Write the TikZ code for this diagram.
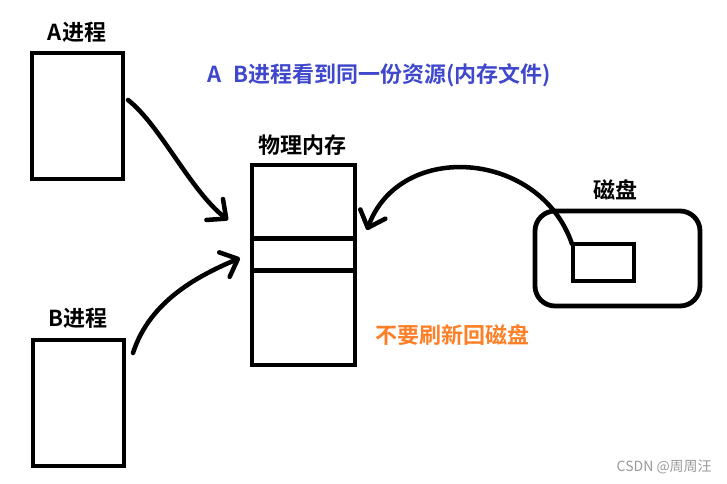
\documentclass[tikz,border=0pt]{standalone}
\usepackage{fontspec}
\setmainfont{Noto Sans CJK SC}[BoldFont=Noto Sans CJK SC Bold]
\usetikzlibrary{arrows.meta}
\definecolor{paintblue}{RGB}{63,72,204}
\definecolor{paintorange}{RGB}{255,127,39}
\tikzset{
  box/.style={draw=black, line width=3.6pt, inner sep=0pt, outer sep=0pt},
  lbl/.style={font=\fontsize{16.5}{18}\selectfont\bfseries, inner sep=0pt},
  arr/.style={draw=black, line width=3.4pt, line cap=round, line join=round,
    -{Straight Barb[length=11pt,width=20pt,line cap=round,line join=round]}},
}
\begin{document}
\begin{tikzpicture}[x=0.75pt,y=-0.75pt]
\useasboundingbox (0,0) rectangle (727,484);
% boxes
\node[box, minimum width=68.25pt, minimum height=94.5pt] (A) at (77.5,116) {};
\node[box, minimum width=68.25pt, minimum height=94.5pt] (B) at (78.5,403) {};
\node[box, minimum width=77.25pt, minimum height=150pt] (mem) at (303.5,265) {};
\node[box, minimum width=77.25pt, minimum height=24pt] (band) at (303.5,254.5) {};
\node[box, rounded corners=15pt, minimum width=123.75pt, minimum height=71.25pt] (disk) at (617.5,258.5) {};
\node[box, minimum width=45.75pt, minimum height=27.75pt] (file) at (603.5,262.5) {};
% labels
\node[lbl] (la) at (77,32) {A进程};
\node[lbl] (lb) at (78,318) {B进程};
\node[lbl] (lm) at (302,145) {物理内存};
\node[lbl] (ld) at (615,190) {磁盘};
\node[lbl, text=paintblue, anchor=west] (shared) at (207,75) {A\hspace{0.55em}B进程看到同一份资源(内存文件)};
\node[lbl, text=paintorange, anchor=west] (noflush) at (375,335) {不要刷新回磁盘};
\node[font=\fontsize{10.5}{12}\selectfont, text=black!40, anchor=east, inner sep=0pt] (wm) at (712,467) {CSDN @周周汪};
% connector endpoints
\coordinate (a0) at (128,100);
\coordinate (a1) at (228,220);
\coordinate (b0) at (133,353);
\coordinate (b1) at (240,258);
\coordinate (d0) at (572,244);
\coordinate (d1) at (367,230);
% arrows
\draw[arr] (a0) .. controls (160,125) and (190,190) .. (a1);
\draw[arr] (b0) .. controls (150,300) and (200,275) .. (b1);
\draw[arr] (d0) .. controls (540,150) and (400,140) .. (d1);
\end{tikzpicture}
\end{document}
